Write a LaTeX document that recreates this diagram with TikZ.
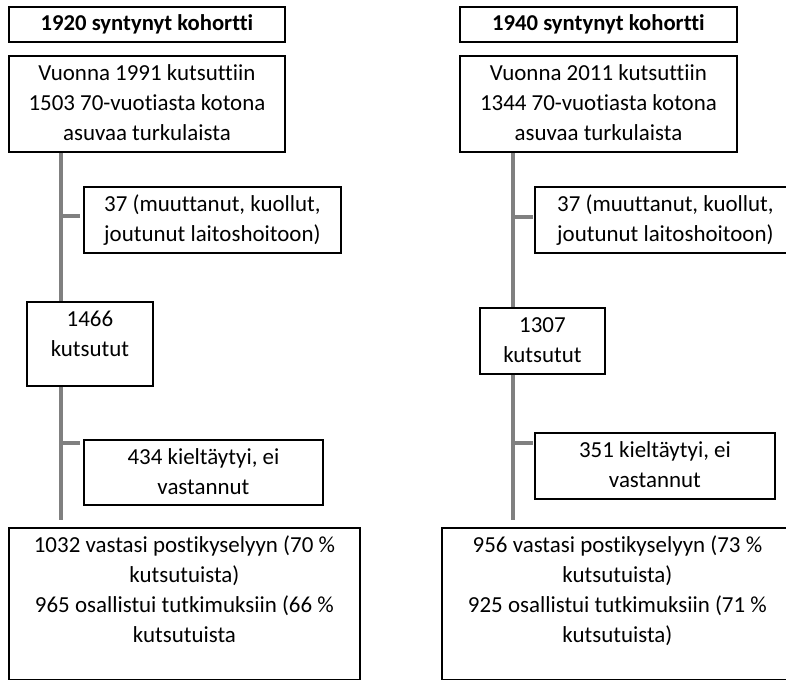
\documentclass[tikz,border=0pt]{standalone}
\usepackage{fontspec}
\setmainfont{Carlito}[Ligatures={NoCommon,NoRequired,NoContextual}]
\newlength\px \setlength\px{0.75pt}
\definecolor{connc}{RGB}{128,128,128}
\tikzset{
  box/.style={draw=black, line width=1.4pt, inner sep=0pt, anchor=north west,
    font=\fontsize{17.2pt}{22.5pt}\selectfont},
  titlefont/.style={font=\fontsize{17pt}{20pt}\selectfont\bfseries},
  conn/.style={draw=connc, line width=3pt},
}
\newcommand\tbox[6]{\node[box] (#1) at (#2,#3) {\parbox[c][#5\px][t]{#4\px}{\vspace*{3pt}\centering\strut #6\par}};}
\newcommand\titlebox[6]{\node[box, titlefont] (#1) at (#2,#3) {\parbox[c][#5\px][c]{#4\px}{\centering #6\par}};}
\begin{document}
\begin{tikzpicture}[x=0.75pt,y=-0.75pt]
\useasboundingbox (0,0) rectangle (786,680);
\clip (0,0) rectangle (786,680);
% left column
\titlebox{t1}{8}{6}{276}{35}{1920 syntynyt kohortti}
\tbox{m1}{8}{55}{276}{96}{Vuonna 1991 kutsuttiin\\1503 70-vuotiasta kotona\\asuvaa turkulaista}
\tbox{e1}{83}{186}{257}{66}{37 (muuttanut, kuollut,\\joutunut laitoshoitoon)}
\tbox{k1}{26}{301}{126}{84}{1466\\kutsutut}
\tbox{r1}{83}{439}{239}{65}{434 kieltäytyi, ei\\vastannut}
\tbox{f1}{8}{527}{351}{152}{1032 vastasi postikyselyyn (70 \%\\kutsutuista)\\965 osallistui tutkimuksiin (66 \%\\kutsutuista}
% right column
\titlebox{t2}{459}{6}{277}{35}{1940 syntynyt kohortti}
\tbox{m2}{459}{55}{277}{96}{Vuonna 2011 kutsuttiin\\1344 70-vuotiasta kotona\\asuvaa turkulaista}
\tbox{e2}{534}{186}{261}{66}{37 (muuttanut, kuollut,\\joutunut laitoshoitoon)}
\tbox{k2}{479}{307}{125}{66}{1307\\kutsutut}
\tbox{r2}{534}{432}{240}{66}{351 kieltäytyi, ei\\vastannut}
\tbox{f2}{441}{527}{351}{152}{956 vastasi postikyselyyn (73 \%\\kutsutuista)\\925 osallistui tutkimuksiin (71 \%\\kutsutuista)}
% connectors
\coordinate (L) at (61,0);
\coordinate (R) at (513,0);
\coordinate (b1) at (61,216);
\coordinate (b2) at (61,443);
\coordinate (b3) at (513,217);
\coordinate (b4) at (513,443);
\draw[conn] (m1.south -| L) -- (k1.north -| L);
\draw[conn, shorten >=5.25pt] (k1.south -| L) -- (f1.north -| L);
\draw[conn, shorten >=2.25pt] (b1) -- (b1 -| e1.west);
\draw[conn, shorten >=2.25pt] (b2) -- (b2 -| r1.west);
\draw[conn] (m2.south -| R) -- (k2.north -| R);
\draw[conn, shorten >=5.25pt] (k2.south -| R) -- (f2.north -| R);
\draw[conn, shorten >=1pt] (b3) -- (b3 -| e2.west);
\draw[conn, shorten >=1pt] (b4) -- (b4 -| r2.west);
\end{tikzpicture}
\end{document}
